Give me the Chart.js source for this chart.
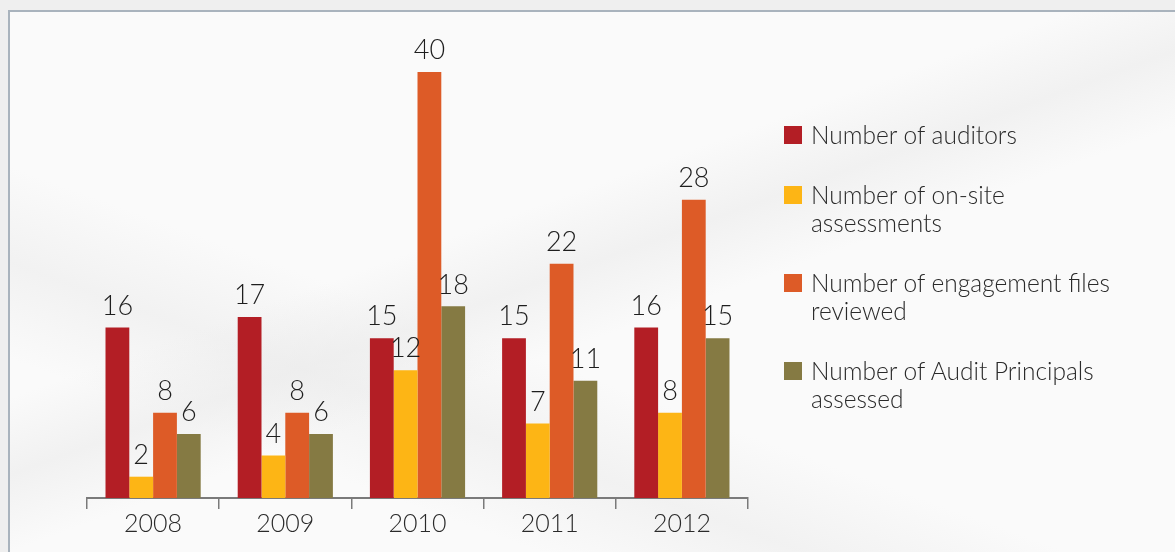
<!DOCTYPE html>
<html>
<head>
<meta charset="utf-8">
<script src="https://cdn.jsdelivr.net/npm/chart.js@4"></script>
<style>
  html, body { margin: 0; padding: 0; }
  body {
    width: 1175px; height: 552px; overflow: hidden; position: relative;
    background: #efefef; font-family: Lato, "Open Sans", sans-serif;
  }
  #frame {
    position: absolute; left: 8px; top: 10px; right: 0; bottom: 0;
    border-top: 2px solid #a9b3bd; border-left: 2px solid #a9b3bd;
    background:
      linear-gradient(160deg, rgba(255,255,255,0) 40%, rgba(235,235,235,0.6) 48%, rgba(255,255,255,0) 56%),
      linear-gradient(200deg, rgba(255,255,255,0) 60%, rgba(238,238,238,0.7) 70%, rgba(255,255,255,0) 80%),
      #fafafa;
  }
  #myChart { position: absolute; left: 0; top: 0; }
  #legend {
    position: absolute; left: 784px; top: 121px; width: 385px;
    color: #2a2a2a; font-size: 24.5px; font-weight: 300; line-height: 28px;
  }
  .item { position: relative; padding-left: 27px; margin-bottom: 32px; }
  .box { position: absolute; left: 0; top: 5px; width: 18px; height: 18px; }
</style>
</head>
<body>
<div id="frame"></div>
<canvas id="myChart" width="1175" height="552"></canvas>
<div id="legend"></div>
<script>
let years = ["2008", "2009", "2010", "2011", "2012"];
let auditors = [16, 17, 15, 15, 16];
let onSite = [2, 4, 12, 7, 8];
let filesReviewed = [8, 8, 40, 22, 28];
let principals = [6, 6, 18, 11, 15];

let names = [
  ["Number of auditors"],
  ["Number of on-site", "assessments"],
  ["Number of engagement files", "reviewed"],
  ["Number of Audit Principals", "assessed"],
];
let colors = ["#b31e25", "#fdb515", "#dd5b27", "#857a43"];

// values above the bars
const barLabels = {
  id: "barLabels",
  afterDatasetsDraw(chart) {
    const ctx = chart.ctx;
    ctx.save();
    ctx.font = "300 27px Lato";
    ctx.fillStyle = "#1e1e1e";
    ctx.textAlign = "center";
    ctx.textBaseline = "bottom";
    chart.data.datasets.forEach((ds, i) => {
      chart.getDatasetMeta(i).data.forEach((bar, j) => {
        ctx.fillText(ds.data[j], bar.x, bar.y - 8);
      });
    });
    ctx.restore();
  },
};

var ctx = document.getElementById("myChart");
var barChart = new Chart(ctx, {
  type: "bar",
  data: {
    labels: years,
    datasets: [auditors, onSite, filesReviewed, principals].map((d, i) => ({
      label: names[i].join(" "),
      data: d,
      backgroundColor: colors[i],
      barPercentage: 1,
      categoryPercentage: 0.72,
    })),
  },
  options: {
    responsive: false,
    animation: false,
    layout: {
      padding: { left: 87, right: 427, top: 72, bottom: 13 },
    },
    plugins: {
      legend: { display: false },
      tooltip: { enabled: false },
    },
    scales: {
      x: {
        grid: {
          drawOnChartArea: false,
          tickLength: 11,
          color: "#7a7a7a",
          lineWidth: 1.5,
        },
        border: { color: "#7a7a7a", width: 2 },
        ticks: {
          color: "#2a2a2a",
          font: { family: "Lato", size: 25, weight: "300" },
          padding: 0,
        },
      },
      y: {
        display: false,
        min: 0,
        max: 40,
      },
    },
  },
  plugins: [barLabels],
});

let legend = document.getElementById("legend");
names.forEach((n, i) => {
  let item = document.createElement("div");
  item.className = "item";
  let box = document.createElement("span");
  box.className = "box";
  box.style.background = colors[i];
  item.appendChild(box);
  n.forEach((line) => {
    let t = document.createElement("div");
    t.innerText = line;
    item.appendChild(t);
  });
  legend.appendChild(item);
});
</script>
</body>
</html>
